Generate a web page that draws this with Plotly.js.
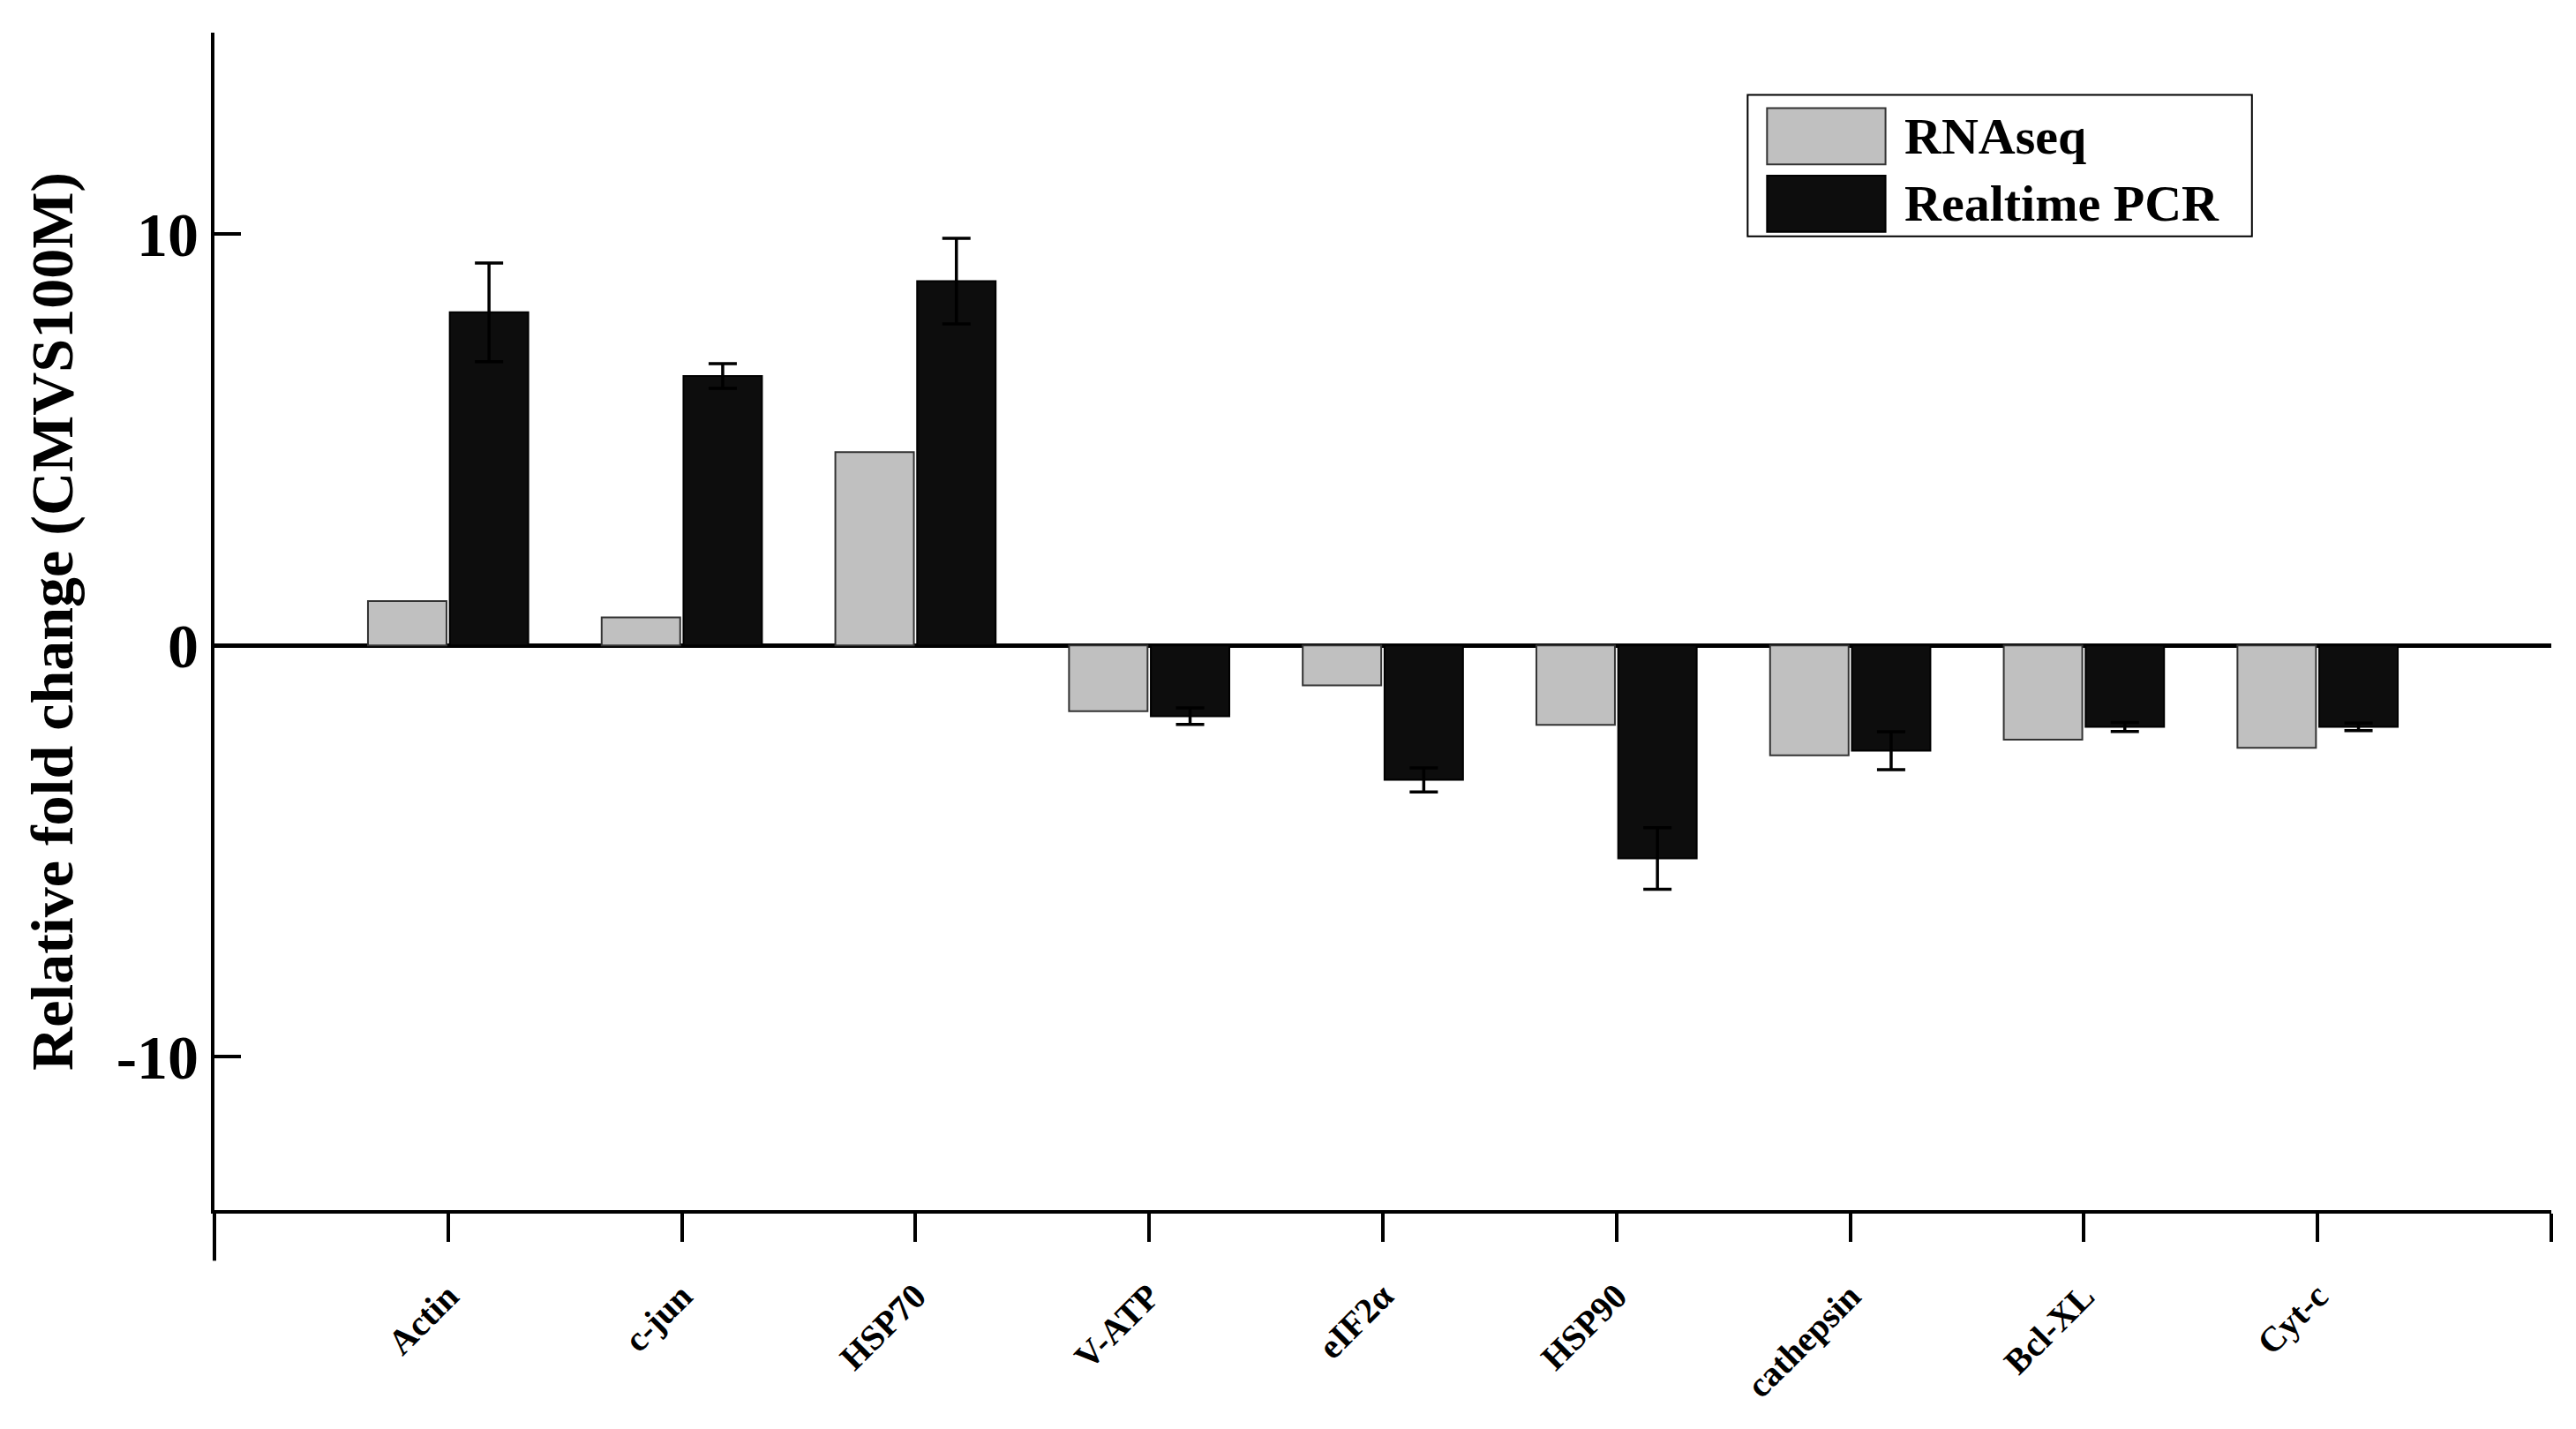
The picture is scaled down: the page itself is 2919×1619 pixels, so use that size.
<!DOCTYPE html>
<html>
<head>
<meta charset="utf-8">
<script src="https://cdn.plot.ly/plotly-3.0.1.min.js"></script>
<style>
  html, body { margin: 0; padding: 0; background: #fff; }
  #chart { width: 2919px; height: 1619px; }
</style>
</head>
<body>
<div id="chart"></div>
<script>
var genes = ["Actin", "c-jun", "HSP70", "V-ATP", "eIF2\u03b1", "HSP90", "cathepsin", "Bcl-XL", "Cyt-c"];
var rnaseq = [1.08, 0.68, 4.7, -1.6, -0.97, -1.93, -2.67, -2.29, -2.49];
var pcr = [8.1, 6.55, 8.86, -1.72, -3.27, -5.18, -2.56, -1.98, -1.98];
var pcrErr = [1.2, 0.3, 1.04, 0.2, 0.29, 0.75, 0.46, 0.11, 0.09];

var serif = "Liberation Serif, Times New Roman, serif";
var pos = genes.map(function (g, i) { return i; });

var trace1 = {
    type: "bar",
    name: "RNAseq",
    x: pos,
    y: rnaseq,
    marker: {color: "#c0c0c0", line: {color: "#333333", width: 2}}
};

var trace2 = {
    type: "bar",
    name: "Realtime PCR",
    x: pos,
    y: pcr,
    marker: {color: "#0d0d0d", line: {color: "#000000", width: 2}},
    error_y: {type: "data", array: pcrErr, visible: true, color: "#000", thickness: 3.5, width: 16}
};

// hand-made legend with big swatches, like the original figure
var legendBox = {x0: 0.6561, x1: 0.8719, y0: 0.8271, y1: 0.9471};
var swatchX = [0.6644, 0.7151];
var rows = [[0.8882, 0.9359], [0.8308, 0.8785]];
var legendShapes = [{
    type: "rect", xref: "paper", yref: "paper",
    x0: legendBox.x0, x1: legendBox.x1, y0: legendBox.y0, y1: legendBox.y1,
    line: {color: "#000", width: 2}, fillcolor: "#fff", layer: "above"
}];
var legendNotes = [];
[trace1, trace2].forEach(function (t, i) {
    legendShapes.push({
        type: "rect", xref: "paper", yref: "paper",
        x0: swatchX[0], x1: swatchX[1], y0: rows[i][0], y1: rows[i][1],
        line: {color: t.marker.line.color, width: 2}, fillcolor: t.marker.color, layer: "above"
    });
    legendNotes.push({
        xref: "paper", yref: "paper",
        x: 0.7223, y: (rows[i][0] + rows[i][1]) / 2,
        xanchor: "left", yanchor: "middle",
        text: t.name, showarrow: false,
        font: {family: serif, size: 58, weight: "bold", color: "#000"}
    });
});

var layout = {
    width: 2919,
    height: 1619,
    margin: {l: 243, r: 28, t: 37, b: 248, pad: 0},
    paper_bgcolor: "#fff",
    plot_bgcolor: "#fff",
    barmode: "group",
    bargap: 0.3,
    bargroupgap: 0.04,
    font: {family: serif, color: "#000"},
    xaxis: {
        range: [-1, 9],
        tickmode: "array",
        tickvals: [-1].concat(pos, [9]),
        ticktext: [""].concat(genes, [""]),
        ticks: "outside",
        ticklen: 32,
        tickwidth: 4,
        tickcolor: "#000",
        tickangle: -45,
        ticklabelstandoff: 22,
        tickfont: {family: serif, size: 40, weight: "bold", color: "#000"},
        showline: true,
        linewidth: 4,
        linecolor: "#000",
        showgrid: false,
        zeroline: false
    },
    yaxis: {
        range: [-13.73, 14.9],
        tickmode: "array",
        tickvals: [-10, 0, 10],
        ticktext: ["-10", "0", "10"],
        ticks: "inside",
        ticklen: 30,
        tickwidth: 4,
        tickcolor: "#000",
        tickfont: {family: serif, size: 70, weight: "bold", color: "#000"},
        showline: true,
        linewidth: 4,
        linecolor: "#000",
        showgrid: false,
        zeroline: true,
        zerolinecolor: "#000",
        zerolinewidth: 5,
        title: {
            text: "Relative fold change (CMVS100M)",
            font: {family: serif, size: 68, weight: "bold", color: "#000"},
            standoff: 28
        }
    },
    shapes: [{
        type: "line", xref: "paper", yref: "paper",
        x0: 0, x1: 0, y0: 0, y1: -0.043,
        line: {color: "#000", width: 4}
    }].concat(legendShapes),
    annotations: legendNotes,
    showlegend: false
};

Plotly.newPlot("chart", [trace1, trace2], layout, {displayModeBar: false});
</script>
</body>
</html>
